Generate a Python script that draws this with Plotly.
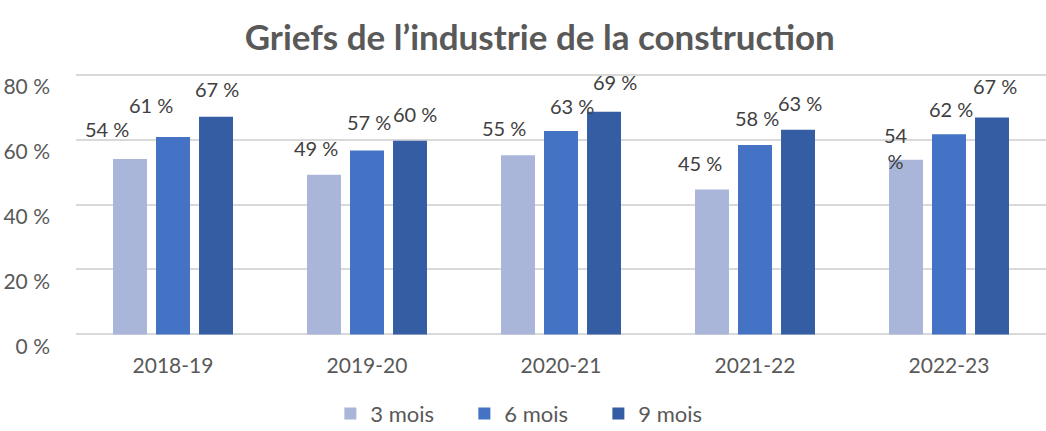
import plotly.graph_objects as go

categories = ["2018-19", "2019-20", "2020-21", "2021-22", "2022-23"]
series_names = ["3 mois", "6 mois", "9 mois"]
values_3m = [54.0, 49.2, 55.2, 44.6, 53.8]
values_6m = [60.8, 56.6, 62.6, 58.3, 61.6]
values_9m = [67.0, 59.6, 68.6, 63.0, 66.8]
y_ticks = [0, 20, 40, 60, 80]
y_tick_labels = [f"{v} %" for v in y_ticks]

# style: colours and manual label nudges (px) mimicking the original
colors = ["#A9B6DA", "#4472C4", "#355DA4"]
label_dx = [[-23, -8, -14, -12, -10], [-22, 2, 11, 2, 2], [1, 5, 11, 2, 3]]
label_dy = [[30, 27, 27, 27, 12], [32, 29, 25, 27, 25], [28, 27, 30, 27, 31]]
label_wrap = [[False, False, False, False, True], [False] * 5, [False] * 5]

FONT = "Lato"
TXT = "#404040"
AX = "#595959"
GRID = "#D9D9D9"
bargap = 0.335

fig = go.Figure()
all_values = [values_3m, values_6m, values_9m]
for name, vals, col in zip(series_names, all_values, colors):
    fig.add_trace(go.Bar(name=name, x=categories, y=vals, marker_color=col,
                         marker_line_width=0, hoverinfo="skip"))

slot = (1 - bargap) / 3
for k, vals in enumerate(all_values):
    for i, v in enumerate(vals):
        txt = f"{v:.0f} %"
        if label_wrap[k][i]:
            txt = txt.replace(" ", "<br>")
        fig.add_annotation(x=i + (k - 1) * slot, y=v, text=txt, showarrow=False,
                           xanchor="center", yanchor="middle",
                           xshift=label_dx[k][i], yshift=label_dy[k][i],
                           font=dict(family=FONT, size=20, color=TXT))

fig.update_layout(
    width=1046, height=431,
    margin=dict(l=76, r=0, t=73, b=95, autoexpand=False),
    paper_bgcolor="white", plot_bgcolor="white",
    barmode="group", bargap=bargap, bargroupgap=0.21,
    title=dict(text="<b>Griefs de l’industrie de la construction</b>",
               x=0.516, xanchor="center", y=0.912, yanchor="middle",
               xref="container", yref="container",
               font=dict(family=FONT, size=35, color=AX)),
    font=dict(family=FONT, size=21, color=AX),
    legend=dict(orientation="h", xref="container", yref="container",
                x=0.508, xanchor="center", y=0.04, yanchor="middle",
                entrywidth=89, font=dict(family=FONT, size=22, color=AX),
                itemclick=False),
    showlegend=True,
)
fig.update_xaxes(type="category", showgrid=False, showline=False, zeroline=False,
                 ticks="", ticklabelstandoff=15,
                 tickfont=dict(family=FONT, size=21, color=AX))
fig.update_yaxes(range=[-0.5, 80.5], tickvals=y_ticks, ticktext=y_tick_labels,
                 showgrid=True, gridcolor=GRID, gridwidth=1.5,
                 zeroline=False, showline=False, ticks="",
                 ticklabelstandoff=25, ticklabelshift=12,
                 tickfont=dict(family=FONT, size=21, color=AX))

fig.write_html("out.html", config={"displayModeBar": False},
               post_script="document.body.style.margin='0';"
                           "document.body.style.overflow='hidden';")
